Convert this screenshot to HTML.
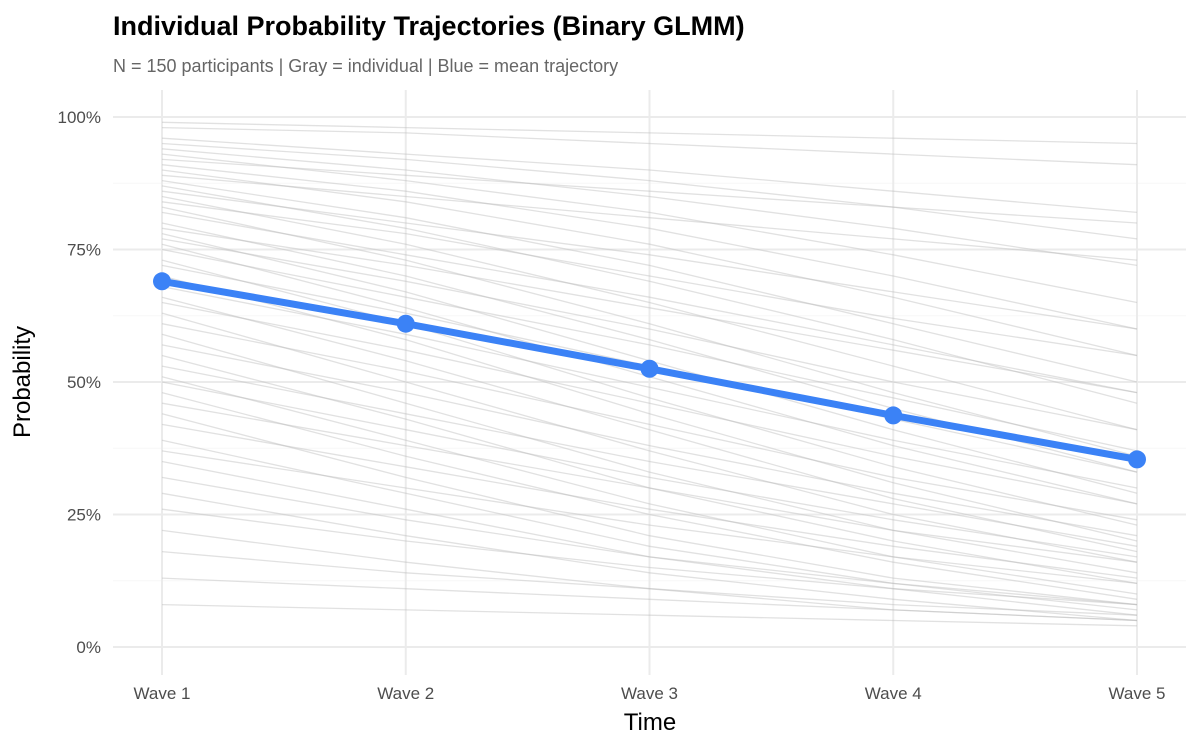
<!DOCTYPE html>
<html><head><meta charset="utf-8"><style>
body{margin:0;background:#fff;font-family:"Liberation Sans",sans-serif}
svg text{font-family:"Liberation Sans",sans-serif}
</style></head><body>
<svg id="chart" width="1200" height="750">
<text x="113" y="35" font-size="27" font-weight="bold" fill="#000">Individual Probability Trajectories (Binary GLMM)</text>
<text x="113" y="72" font-size="18" fill="#666">N = 150 participants | Gray = individual | Blue = mean trajectory</text>
<g id="grid"></g>
<g id="indiv"></g>
<g id="mean"></g>
<g id="axes"></g>
<text x="650" y="730" font-size="24" text-anchor="middle" fill="#000">Time</text>
<text transform="translate(30,382) rotate(-90)" font-size="24" text-anchor="middle" fill="#000">Probability</text>
</svg>
<script>
const categories = ["Wave 1","Wave 2","Wave 3","Wave 4","Wave 5"];
const meanValues = [0.690,0.610,0.525,0.437,0.354];
const yTicks = [0,0.25,0.5,0.75,1];
const yTickLabels = ["0%","25%","50%","75%","100%"];
const individuals = [
[0.99,0.98,0.97,0.96,0.95],[0.98,0.97,0.95,0.93,0.91],[0.96,0.93,0.90,0.86,0.82],[0.95,0.92,0.88,0.83,0.77],
[0.94,0.90,0.85,0.79,0.72],[0.93,0.88,0.82,0.74,0.65],[0.92,0.89,0.86,0.83,0.80],[0.91,0.86,0.79,0.70,0.60],
[0.90,0.84,0.76,0.66,0.55],[0.89,0.85,0.81,0.77,0.73],[0.88,0.81,0.72,0.61,0.50],[0.87,0.79,0.69,0.58,0.46],
[0.86,0.80,0.74,0.67,0.60],[0.85,0.76,0.65,0.53,0.41],[0.84,0.78,0.70,0.62,0.55],[0.83,0.73,0.61,0.48,0.36],
[0.82,0.74,0.66,0.57,0.48],[0.80,0.70,0.58,0.45,0.33],[0.79,0.72,0.64,0.56,0.48],[0.78,0.67,0.54,0.41,0.29],
[0.77,0.69,0.60,0.50,0.41],[0.76,0.64,0.51,0.38,0.27],[0.75,0.66,0.57,0.47,0.37],[0.73,0.61,0.47,0.34,0.23],
[0.72,0.63,0.53,0.43,0.33],[0.70,0.58,0.44,0.31,0.20],[0.68,0.59,0.49,0.39,0.30],[0.66,0.54,0.41,0.28,0.18],
[0.65,0.56,0.46,0.36,0.27],[0.63,0.50,0.37,0.25,0.16],[0.61,0.52,0.42,0.32,0.24],[0.59,0.46,0.33,0.22,0.14],
[0.57,0.48,0.38,0.29,0.21],[0.55,0.43,0.30,0.20,0.12],[0.53,0.44,0.35,0.27,0.19],[0.51,0.39,0.27,0.17,0.10],
[0.50,0.41,0.32,0.24,0.17],[0.48,0.36,0.25,0.16,0.09],[0.46,0.38,0.30,0.22,0.16],[0.44,0.32,0.21,0.13,0.08],
[0.42,0.34,0.26,0.19,0.13],[0.39,0.29,0.19,0.12,0.07],[0.37,0.30,0.23,0.17,0.12],[0.35,0.26,0.17,0.11,0.06],
[0.32,0.24,0.17,0.12,0.08],[0.29,0.21,0.14,0.09,0.05],[0.26,0.20,0.15,0.11,0.08],[0.22,0.16,0.11,0.07,0.05],
[0.18,0.14,0.11,0.08,0.06],[0.13,0.11,0.09,0.07,0.05],[0.08,0.07,0.06,0.05,0.04]
];
const NS="http://www.w3.org/2000/svg";
const x0=162, x1=1137, yTop=117, yBot=647;
const xScale=i=>x0+i*(x1-x0)/(categories.length-1);
const yScale=v=>yBot-v*(yBot-yTop);
function mk(tag,attrs,parent){const e=document.createElementNS(NS,tag);for(const k in attrs)e.setAttribute(k,attrs[k]);parent.appendChild(e);return e;}
const grid=document.getElementById('grid');
for(let i=0;i<yTicks.length-1;i++){
  const v=(yTicks[i]+yTicks[i+1])/2;
  const l=mk('line',{x1:113,x2:1186,y1:yScale(v),y2:yScale(v),stroke:'#f7f7f7','stroke-width':1},grid);
  
  
}
yTicks.forEach((v,i)=>{
  const l=mk('line',{x1:113,x2:1186,y1:yScale(v),y2:yScale(v),stroke:'#ebebeb','stroke-width':2},grid);
  
  
  const t=mk('text',{x:101,y:yScale(v)+6,'font-size':17,'text-anchor':'end',fill:'#4d4d4d'},document.getElementById('axes'));
  t.textContent=yTickLabels[i];
  
  
});
categories.forEach((c,i)=>{
  const l=mk('line',{x1:xScale(i),x2:xScale(i),y1:90,y2:675,stroke:'#ebebeb','stroke-width':2},grid);
  
  
  const t=mk('text',{x:xScale(i),y:699,'font-size':17,'text-anchor':'middle',fill:'#4d4d4d'},document.getElementById('axes'));
  t.textContent=c;
  
  
});
const indiv=document.getElementById('indiv');
individuals.forEach(s=>{
  const p=mk('polyline',{points:s.map((v,i)=>xScale(i)+','+yScale(v)).join(' '),fill:'none',stroke:'#bdbdbd','stroke-opacity':0.45,'stroke-width':1.3},indiv);
  
  
});
const mean=document.getElementById('mean');
const ml=mk('polyline',{points:meanValues.map((v,i)=>xScale(i)+','+yScale(v)).join(' '),fill:'none',stroke:'#3b82f6','stroke-width':7,'stroke-linejoin':'round'},mean);


meanValues.forEach((v,i)=>{
  const c=mk('circle',{cx:xScale(i),cy:yScale(v),r:9,fill:'#3b82f6'},mean);
  
  
});
</script>
</body></html>
